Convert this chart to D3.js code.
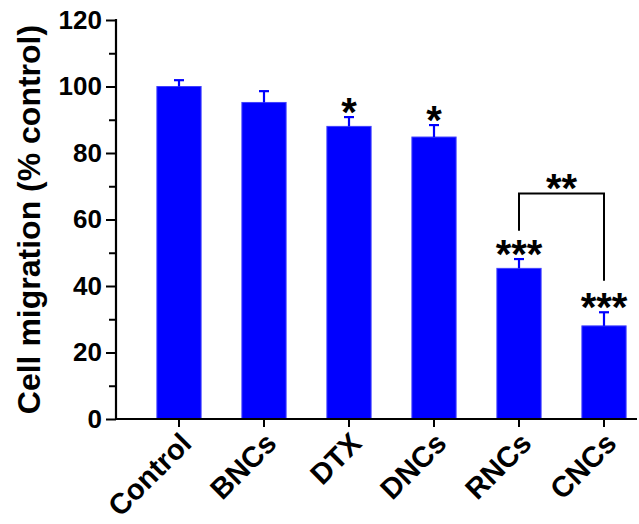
<!DOCTYPE html>
<html><head><meta charset="utf-8">
<script src="https://cdn.jsdelivr.net/npm/d3@7"></script>
<style>body{margin:0;background:#fff}svg{display:block}text{font-family:"Liberation Sans",Arial,sans-serif;font-weight:bold}</style>
</head><body>
<svg id="c" width="639" height="524"></svg>
<script>
const categories = ["Control","BNCs","DTX","DNCs","RNCs","CNCs"];
const values = [100, 95.2, 88.0, 84.8, 45.3, 28.0];
const errors = [1.9, 3.4, 2.8, 3.6, 2.8, 4.1];
const sigLabels = ["", "", "*", "*", "***", "***"];
const yTicks = [0,20,40,60,80,100,120];
const bracket = {from:"RNCs", to:"CNCs", label:"**", level:67.8, leftEnd:56.6, rightEnd:41.6};

const svg = d3.select("#c");
const y = d3.scaleLinear().domain([0,120]).range([419,20]);
const x = d3.scaleBand().domain(categories).range([136.5,646.5]).paddingInner(0.48).paddingOuter(0.24);
const axisX0 = 116, axisX1 = 637;
const FONT = "Liberation Sans, Arial, sans-serif";

// bars
svg.selectAll("rect.bar").data(categories).join("rect")
  .attr("x", d=>x(d)).attr("width", x.bandwidth())
  .attr("y", (d,i)=>y(values[i])).attr("height",(d,i)=>y(0)-y(values[i]))
  .attr("fill","#0000ff").attr("stroke","#4040ff").attr("stroke-width",1);

// error bars
const cx = d=>x(d)+x.bandwidth()/2;
const eg = svg.append("g").attr("stroke","#0000ff").attr("stroke-width",2.2);
categories.forEach((d,i)=>{
  eg.append("line").attr("x1",cx(d)).attr("x2",cx(d)).attr("y1",y(values[i])).attr("y2",y(values[i]+errors[i]));
  eg.append("line").attr("x1",cx(d)-5).attr("x2",cx(d)+5).attr("y1",y(values[i]+errors[i])).attr("y2",y(values[i]+errors[i]));
});

// y axis
const yAxis = d3.axisLeft(y).tickValues(yTicks).tickSize(10).tickPadding(4);
const gy = svg.append("g").attr("transform",`translate(${axisX0},0)`).call(yAxis);
gy.select(".domain").remove();
gy.selectAll(".tick line").attr("stroke","#000").attr("stroke-width",2);
gy.selectAll(".tick text").attr("font-size",26).attr("fill","#000").attr("font-family",FONT).attr("font-weight","bold");
const minor = d3.range(10,120,20);
const yMinor = d3.axisLeft(y).tickValues(minor).tickSize(7).tickFormat("");
const gym = svg.append("g").attr("transform",`translate(${axisX0},0)`).call(yMinor);
gym.select(".domain").remove();
gym.selectAll(".tick line").attr("stroke","#000").attr("stroke-width",2);
svg.append("line").attr("x1",axisX0).attr("x2",axisX0).attr("y1",y(120)-1).attr("y2",y(0)+1).attr("stroke","#000").attr("stroke-width",2.2);

// x axis
const xAxis = d3.axisBottom(x).tickSize(8).tickPadding(0);
const gx = svg.append("g").attr("transform",`translate(0,${y(0)})`).call(xAxis);
gx.select(".domain").remove();
gx.selectAll(".tick line").attr("stroke","#000").attr("stroke-width",2);
gx.selectAll(".tick text").attr("font-size",29).attr("fill","#000")
  .attr("font-family",FONT).attr("font-weight","bold")
  .attr("text-anchor","end").attr("y",0).attr("dy","0.35em")
  .attr("transform","translate(7,19) rotate(-45)");
svg.append("line").attr("x1",axisX0-1).attr("x2",axisX1).attr("y1",y(0)).attr("y2",y(0)).attr("stroke","#000").attr("stroke-width",2.2);

// y title
svg.append("text").attr("transform",`translate(40,${(y(0)+y(120))/2}) rotate(-90)`)
  .attr("text-anchor","middle").attr("font-size",32).attr("fill","#000").text("Cell migration (% control)");

// significance stars
categories.forEach((d,i)=>{
  if(!sigLabels[i]) return;
  svg.append("text").attr("x",cx(d)).attr("y",y(values[i]+errors[i])+9)
    .attr("text-anchor","middle").attr("font-size",40).attr("font-weight","normal").attr("fill","#000").text(sigLabels[i]);
});

// bracket
const bx1 = cx(bracket.from), bx2 = cx(bracket.to);
svg.append("path").attr("d",`M${bx1},${y(bracket.leftEnd)}V${y(bracket.level)}H${bx2}V${y(bracket.rightEnd)}`)
  .attr("fill","none").attr("stroke","#000").attr("stroke-width",2);
svg.append("text").attr("x",(bx1+bx2)/2).attr("y",y(bracket.level)+8).attr("text-anchor","middle")
  .attr("font-size",40).attr("font-weight","normal").attr("fill","#000").text(bracket.label);
</script>
</body></html>
